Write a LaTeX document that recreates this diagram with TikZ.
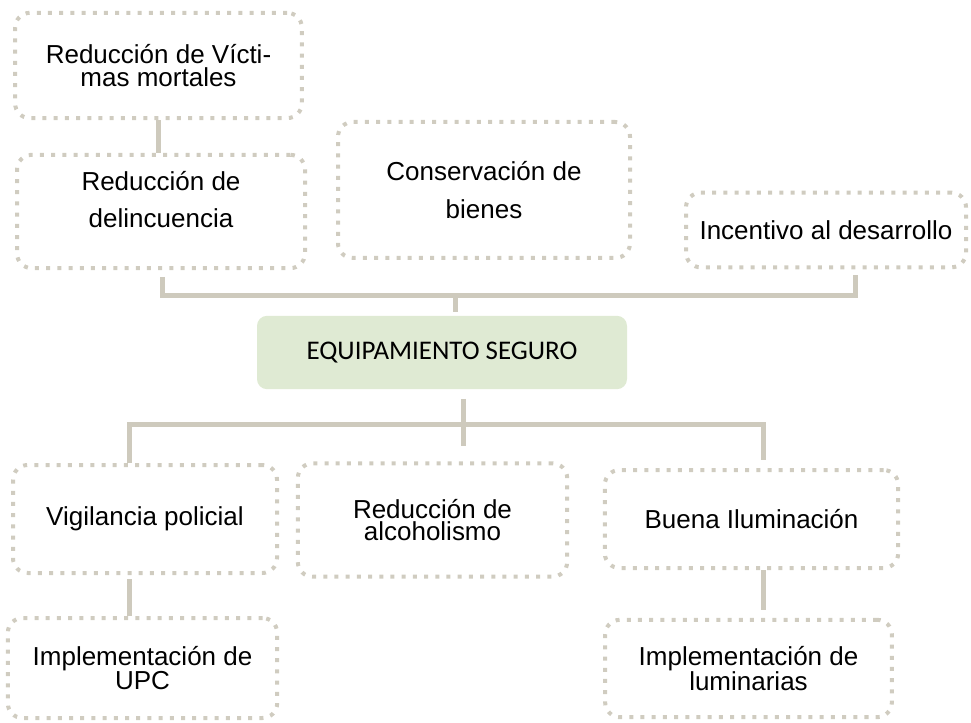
\documentclass[tikz,border=0pt]{standalone}
\usepackage{fontspec}
\setmainfont{Liberation Sans}
\newfontfamily\calibri{Carlito}

\definecolor{borde}{RGB}{208,204,192}
\definecolor{linea}{RGB}{206,202,189}
\definecolor{verde}{RGB}{223,234,211}

\tikzset{
  caja/.style={draw=borde, line width=3pt, dash pattern=on 3pt off 5.4pt,
    rounded corners=11pt, align=center, inner sep=0pt,
    font=\fontsize{19.5}{17}\selectfont},
  cajaalta/.style={caja, font=\fontsize{19.5}{28}\selectfont},
  conector/.style={draw=linea, line width=3.75pt},
}

\begin{document}
\begin{tikzpicture}[x=0.75pt, y=-0.75pt]
  \useasboundingbox (0,0) rectangle (971,723);
  % efectos
  \node[caja, minimum width=215pt, minimum height=79pt] (vict) at (158.5,65.5) {Reducción de Vícti-\\mas mortales};
  \node[cajaalta, minimum width=216pt, minimum height=85pt, text depth=18pt] (deli) at (161,211.5) {Reducción de\\delincuencia};
  \node[cajaalta, minimum width=219pt, minimum height=102pt] (cons) at (484,190) {Conservación de\\bienes};
  \node[caja, minimum width=210pt, minimum height=56pt] (ince) at (826,230) {Incentivo al desarrollo};
  % centro
  \node[fill=verde, rounded corners=7.5pt, minimum width=277.5pt, minimum height=55pt,
    font=\calibri\fontsize{20.2}{22}\selectfont] (equi) at (442,352.5) {EQUIPAMIENTO SEGURO};
  % causas
  \node[caja, minimum width=198pt, minimum height=81pt] (vigi) at (145,519) {Vigilancia policial};
  \node[caja, minimum width=202pt, minimum height=85pt] (alco) at (432.5,520) {Reducción de\\alcoholismo};
  \node[caja, minimum width=220pt, minimum height=73.5pt] (buen) at (751.5,519) {Buena Iluminación};
  \node[caja, minimum width=202pt, minimum height=75pt] (upc) at (142.5,668) {Implementación de\\UPC};
  \node[caja, minimum width=215pt, minimum height=73pt] (lumi) at (748.5,668.5) {Implementación de\\luminarias};

  \coordinate (bsi) at (162,296);
  \coordinate (bsc) at (455,296);
  \coordinate (bsd) at (855,296);
  \coordinate (bic) at (463,425);
  \coordinate (bii) at (129,425);
  \coordinate (bid) at (763,425);
  \coordinate (cola) at (463,446);

  \draw[conector] (vict.south) -- (vict.south |- deli.north);
  \draw[conector, shorten <=5pt, shorten >=4pt] (bsi |- deli.south) -- (bsi) -- (bsd) -- (bsd |- ince.south);
  \draw[conector, shorten >=3pt] (bsc) -- (bsc |- equi.north);
  \draw[conector, shorten <=7pt] (bic |- equi.south) -- (cola);
  \draw[conector, shorten >=6pt] (bii |- vigi.north) -- (bii) -- (bid) -- (bid |- buen.north);
  \draw[conector, shorten <=3pt] (vigi.south -| bii) -- (upc.north -| bii);
  \draw[conector, shorten >=6pt] (buen.south -| bid) -- (lumi.north -| bid);
\end{tikzpicture}
\end{document}
